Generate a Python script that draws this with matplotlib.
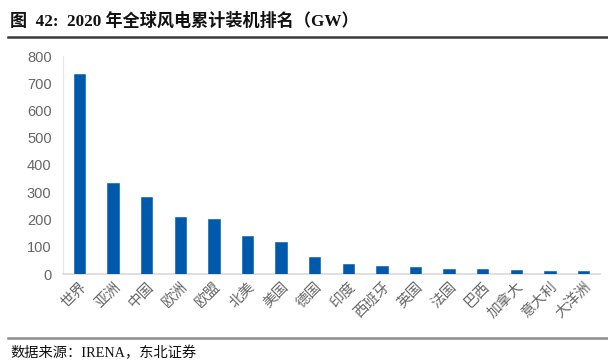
import matplotlib
matplotlib.use("Agg")
import matplotlib.pyplot as plt
from matplotlib.lines import Line2D

categories = ["世界", "亚洲", "中国", "欧洲", "欧盟", "北美", "美国", "德国", "印度",
              "西班牙", "英国", "法国", "巴西", "加拿大", "意大利", "大洋洲"]
values = [735, 333, 284, 208, 202, 140, 118, 62, 38, 28, 24, 18, 17, 14, 11, 11]
yticks = [0, 100, 200, 300, 400, 500, 600, 700, 800]

title = "图  42:  2020 年全球风电累计装机排名（GW）"
source = "数据来源：IRENA，东北证券"

W, H = 608, 364
fig = plt.figure(figsize=(W / 100, H / 100), dpi=100)

ax = fig.add_axes([62.7 / W, 1 - 274 / H, (600.3 - 62.7) / W, (274 - 56) / H])
x = list(range(len(categories)))
ax.bar(x, values, width=0.34, color="#0059AB", edgecolor="#0059AB", linewidth=0.4, zorder=3)
ax.set_xlim(-0.5, len(categories) - 0.5)
ax.set_ylim(0, 800)
ax.set_yticks(yticks)
ax.set_yticklabels([str(v) for v in yticks], fontsize=10.5, color="#666666",
                   family=["Liberation Sans", "DejaVu Sans"])
ax.set_xticks(x)
ax.set_xticklabels(categories, rotation=45, ha="right", va="top", rotation_mode="anchor",
                   fontsize=10.5, color="#666666", family=["Noto Sans CJK SC", "DejaVu Sans"])
ax.tick_params(axis="y", length=0, pad=8)
ax.tick_params(axis="x", length=0, pad=4)
for s in ["top", "right"]:
    ax.spines[s].set_visible(False)
ax.spines["left"].set_color("#e6e6e6")
ax.spines["left"].set_linewidth(0.8)
ax.spines["bottom"].set_color("#d9d9d9")
ax.spines["bottom"].set_linewidth(1.2)
ax.set_facecolor("none")

fig.text(10 / W, 1 - 21 / H, title, fontsize=12.3, fontweight="bold", ha="left", va="center",
         family=["Liberation Serif", "Noto Sans CJK SC"], color="#111111")
fig.add_artist(Line2D([8 / W, 1], [1 - 37 / H, 1 - 37 / H], color="#3a3a3a", linewidth=1.8,
                      transform=fig.transFigure))
fig.add_artist(Line2D([8 / W, 1], [1 - 338 / H, 1 - 338 / H], color="#8c8c8c", linewidth=1.8,
                      transform=fig.transFigure))
fig.text(10 / W, 1 - 353 / H, source, fontsize=10.3, ha="left", va="center",
         family=["Liberation Serif", "Noto Sans CJK SC"], color="#111111")

fig.savefig("out.png", dpi=100)
